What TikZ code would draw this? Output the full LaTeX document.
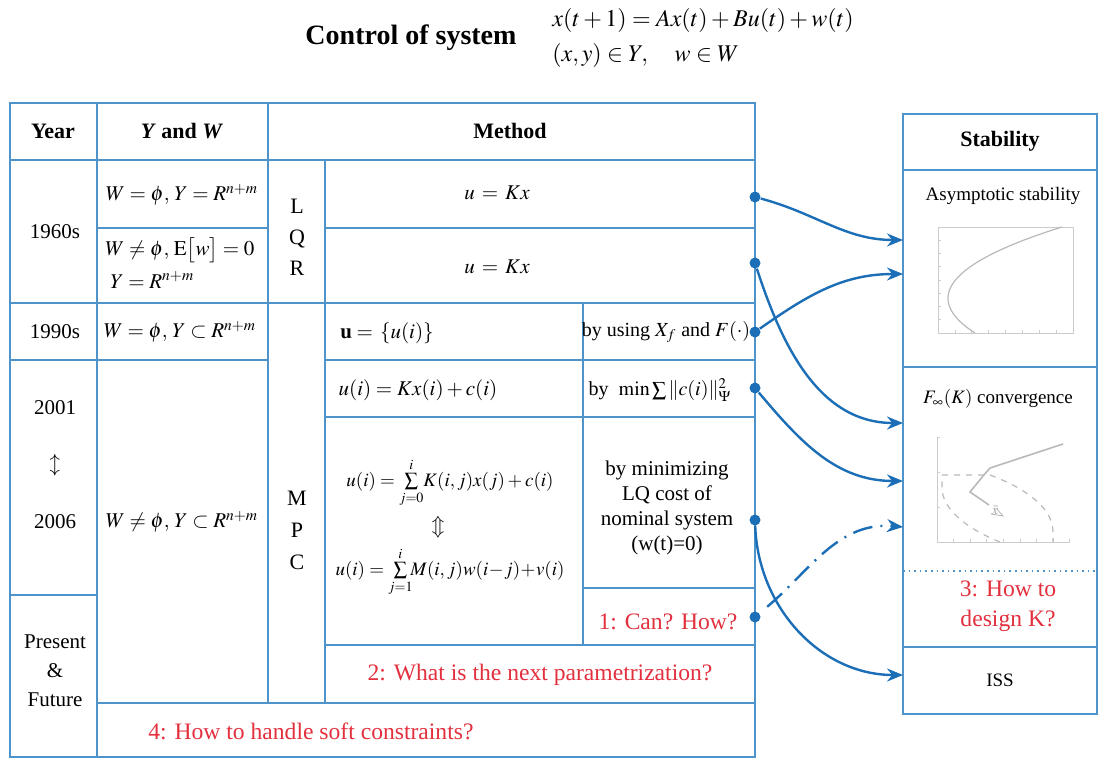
\documentclass[tikz,border=0pt]{standalone}
\usepackage{mathptmx}
\usepackage{fontspec}
\setmainfont{Liberation Serif}
\usetikzlibrary{arrows.meta,positioning}

\definecolor{tblblue}{RGB}{78,148,202}
\definecolor{arrblue}{RGB}{28,110,182}
\definecolor{qred}{RGB}{226,48,62}

\tikzset{
  grid/.style={draw=tblblue, line width=1pt},
  txt/.style={inner sep=1pt, font=\fontsize{10.5}{12.6}\selectfont},
  small/.style={txt, font=\fontsize{10}{12}\selectfont},
  quest/.style={txt, text=qred, font=\fontsize{11.8}{15}\selectfont},
  dot/.style={circle, fill=arrblue, inner sep=0pt, minimum size=5.5pt},
  conn/.style={arrblue, line width=1.2pt, -{Stealth[length=8pt,width=6.5pt]}},
  plotline/.style={gray!55, line width=0.6pt}
}

\begin{document}
\begin{tikzpicture}[x=0.5pt,y=-0.5pt]
\useasboundingbox (0,0) rectangle (1102,760);

% title and system
\node[font=\bfseries\fontsize{14}{16}\selectfont] (title) at (411,38) {Control of system};
\node[anchor=west, font=\fontsize{12}{14}\selectfont, inner sep=0pt] (sys1) at (552,20) {$x(t+1)=Ax(t)+Bu(t)+w(t)$};
\node[anchor=west, font=\fontsize{12}{14}\selectfont, inner sep=0pt] (sys2) at (552,55) {$(x,y)\in Y,\quad w\in W$};

% table frame
\draw[grid] (10,103) rectangle (755,757);
\draw[grid] (10,160) -- (755,160);
\draw[grid] (97,103) -- (97,757);
\draw[grid] (268,103) -- (268,703);
\draw[grid] (325,160) -- (325,703);
\draw[grid] (583,303) -- (583,645);
\draw[grid] (97,228) -- (268,228);
\draw[grid] (325,228) -- (755,228);
\draw[grid] (10,303) -- (755,303);
\draw[grid] (10,360) -- (268,360);
\draw[grid] (325,360) -- (755,360);
\draw[grid] (325,417) -- (755,417);
\draw[grid] (583,588) -- (755,588);
\draw[grid] (10,595) -- (97,595);
\draw[grid] (325,645) -- (755,645);
\draw[grid] (97,703) -- (755,703);

% header
\node[txt, font=\bfseries\fontsize{11}{13}\selectfont] (hyear) at (53,131) {Year};
\node[txt, font=\bfseries\fontsize{11}{13}\selectfont] (hyw) at (182,131) {\textit{Y} and \textit{W}};
\node[txt, font=\bfseries\fontsize{11}{13}\selectfont] (hmethod) at (510,131) {Method};

% years
\node[txt] (y60) at (55,232) {1960s};
\node[txt] (y90) at (55,332) {1990s};
\node[txt] (y01) at (55,408) {2001};
\node[txt] (yarr) at (55,465) {$\updownarrow$};
\node[txt] (y06) at (55,522) {2006};
\node[txt, align=center, font=\fontsize{10.5}{14.5}\selectfont] (ypres) at (55,671) {Present\\\&\\Future};

% Y and W
\node[txt] (yw1) at (182,195) {$W=\phi,\,Y=R^{n+m}$};
\node[txt] (yw2) at (180,250) {$W\neq\phi,\,\mathrm{E}\bigl[w\bigr]=0$};
\node[txt, anchor=west] (yw3) at (108,280) {$Y=R^{n+m}$};
\node[txt] (yw4) at (180,332) {$W=\phi,\,Y\subset R^{n+m}$};
\node[txt] (yw5) at (182,522) {$W\neq\phi,\,Y\subset R^{n+m}$};

% LQR / MPC
\node[txt, align=center, font=\fontsize{11}{15.5}\selectfont] (lqr) at (297,237) {L\\Q\\R};
\node[txt, align=center, font=\fontsize{11}{16}\selectfont] (mpc) at (297,530) {M\\P\\C};

% method entries
\node[txt] (m1) at (497,193) {$u\,=\,Kx$};
\node[txt] (m2) at (497,267) {$u\,=\,Kx$};
\node[txt, anchor=west] (m3) at (338,333) {$\mathbf{u}=\,\{u(i)\}$};
\node[small] (m3b) at (666,332) {by using $X_f$ and $F(\cdot)$};
\node[txt] (m4) at (418,390) {$u(i)=Kx(i)+c(i)$};
\node[small] (m4b) at (660,390) {by\enspace $\min\sum\|c(i)\|^2_{\Psi}$};
\node[txt, font=\fontsize{9.5}{11}\selectfont] (m5) at (450,483) {$u(i)=\sum\limits_{j=0}^{i}\!K(i,j)x(j)+c(i)$};
\node[txt] (m5arr) at (438,527) {$\Updownarrow$};
\node[txt, font=\fontsize{9.5}{11}\selectfont] (m6) at (450,572) {$u(i)=\sum\limits_{j=1}^{i}\!\!M(i,j)w(i\!-\!j)\!+\!v(i)$};
\node[txt, align=center, font=\fontsize{10.5}{12.4}\selectfont] (m5b) at (667,508) {by minimizing\\LQ cost of\\nominal system\\(w(t)=0)};

% open questions
\node[quest] (q1) at (668,622) {1: Can? How?};
\node[quest] (q2) at (540,675) {2: What is the next parametrization?};
\node[quest, anchor=west] (q4) at (146,731) {4: How to handle soft constraints?};

% stability box
\draw[grid] (903,114) rectangle (1097,714);
\draw[grid] (903,170) -- (1097,170);
\draw[grid] (903,367) -- (1097,367);
\draw[grid] (903,647) -- (1097,647);
\draw[tblblue, line width=0.8pt, dotted] (903,571) -- (1097,571);
\node[txt, font=\bfseries\fontsize{11}{13}\selectfont] (hstab) at (1000,141) {Stability};
\node[txt, font=\fontsize{9.5}{11}\selectfont] (asym) at (1003,196) {Asymptotic stability};
\node[txt, font=\fontsize{9.5}{11}\selectfont] (conv) at (998,399) {$F_\infty(K)$ convergence};
\node[quest, align=center] (q3) at (1008,606) {3: How to\\design K?};
\node[txt, font=\fontsize{9.5}{11}\selectfont] (iss) at (1000,680) {ISS};

% asymptotic stability plot
\draw[gray!40, line width=0.4pt] (938,227) rectangle (1073,333);
\foreach \i in {0,...,8} {
  \draw[gray!40, line width=0.4pt] ({938+\i*16.9},333) -- ++(0,-3);
  \draw[gray!40, line width=0.4pt] (938,{227+\i*13.25}) -- ++(3,0);
}
\draw[plotline] plot[domain=227:333, samples=40] ({948+0.0224*(\x-298.3)^2},\x);

% convergence plot
\draw[gray!40, line width=0.5pt] (937,437) -- (937,542) -- (1070,542);
\foreach \i in {0,...,8} \draw[gray!40, line width=0.4pt] ({937+\i*16.6},542) -- ++(0,-3);
\foreach \i in {0,...,3} \draw[gray!40, line width=0.4pt] (937,{437+\i*35}) -- ++(3,0);
\draw[plotline, dashed] (942,475) -- (990,475) .. controls (1030,490) and (1053,510) .. (1053,532) -- (1053,542)
  (1000,542) .. controls (965,528) and (942,508) .. (942,488) -- (942,475);
\draw[plotline, line width=0.8pt] (1063,444) -- (990,468) -- (983,476) -- (970,492) -- (989,505);
\node[gray!70, inner sep=0pt, font=\fontsize{7}{8}\selectfont] (xbar) at (995,510) {$\bar{x}$};
\draw[gray!60, line width=0.4pt] (991,514) -- (1003,516) -- (996,508);

% connector ends
\node[dot] (d1) at (755,197) {};
\node[dot] (d2) at (755,263) {};
\node[dot] (d3) at (755,332) {};
\node[dot] (d4) at (755,388) {};
\node[dot] (d5) at (755,520) {};
\node[dot] (d6) at (755,617) {};
\coordinate (t1) at (903,240);
\coordinate (t2) at (903,274);
\coordinate (t3) at (903,423);
\coordinate (t4) at (903,481);
\coordinate (t5) at (903,527);
\coordinate (t6) at (903,675);

% connectors
\draw[conn] (d1) to[out=-15, in=180] (t1);
\draw[conn] (d2) to[out=-72, in=180] (t3);
\draw[conn] (d3) to[out=35, in=180] (t2);
\draw[conn] (d4) to[out=-50, in=180] (t4);
\draw[conn] (d5) to[out=-88, in=180] (t6);
\draw[conn, dash pattern=on 10pt off 4pt on 1pt off 4pt, shorten <=5pt] (d6) to[out=40, in=175] (t5);

\end{tikzpicture}
\end{document}
